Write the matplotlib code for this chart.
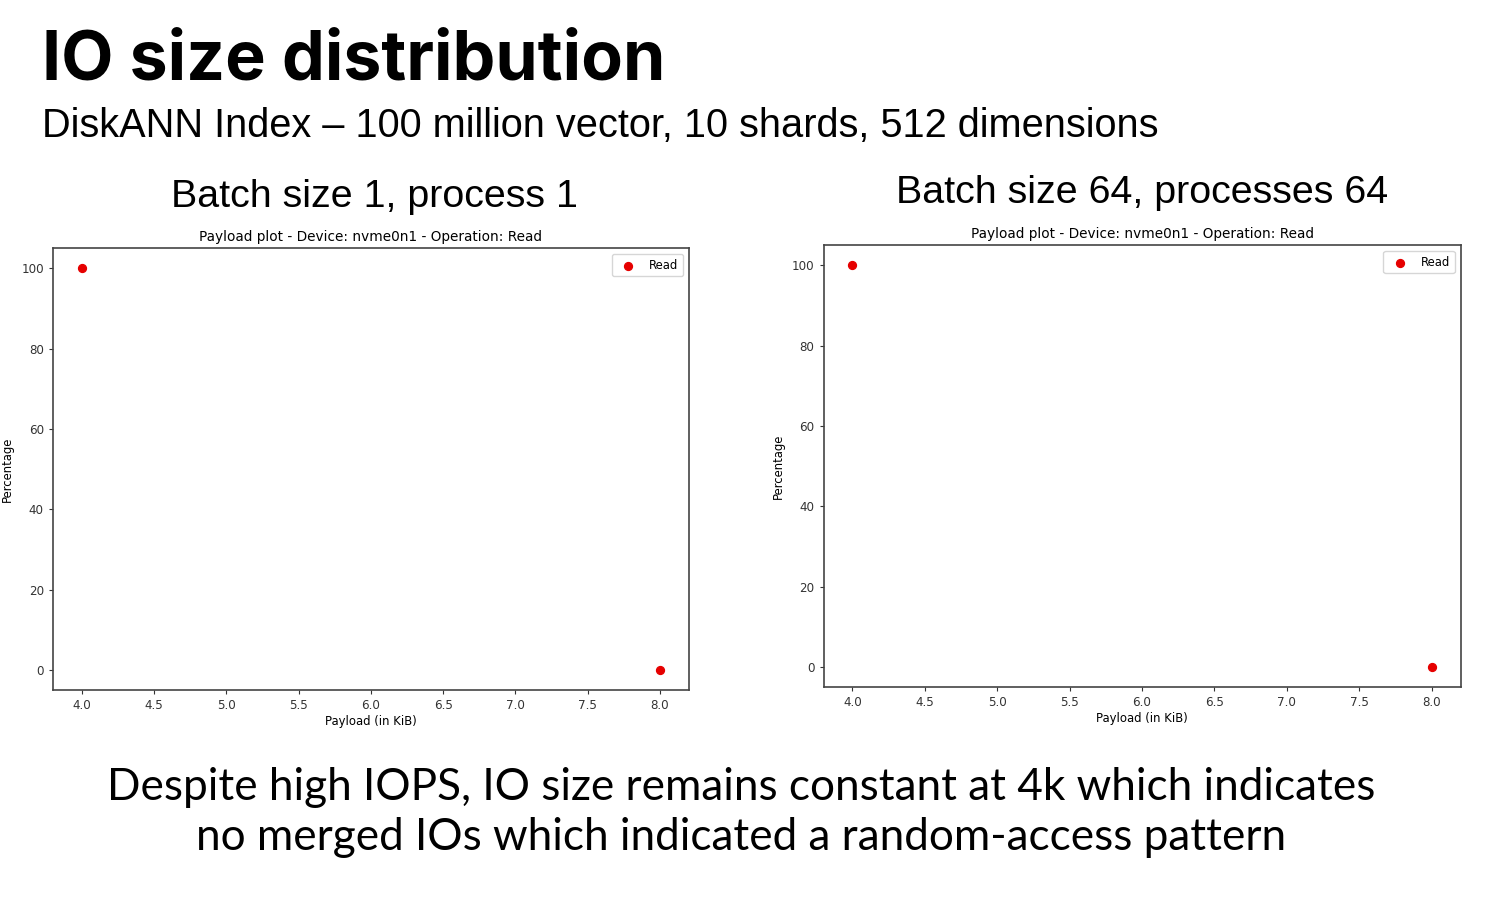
import matplotlib
matplotlib.use("Agg")
from matplotlib import pyplot as plt

# payload sizes (KiB) and share of reads (%) for each run
payload_kib = [4.0, 8.0]
pct_batch1 = [100.0, 0.0]
pct_batch64 = [100.0, 0.0]

panel_titles = ["Batch size 1, process 1", "Batch size 64, processes 64"]
plot_title = "Payload plot - Device: nvme0n1 - Operation: Read"
x_ticks = [4.0, 4.5, 5.0, 5.5, 6.0, 6.5, 7.0, 7.5, 8.0]
y_ticks = [0, 20, 40, 60, 80, 100]

fig = plt.figure(figsize=(15, 9), dpi=100)
fig.patch.set_facecolor("white")

arial = ["Liberation Sans", "DejaVu Sans"]

fig.text(0.028, 0.912, "IO size distribution", fontsize=49, fontweight="bold",
         family=["Inter", "DejaVu Sans"], ha="left", va="baseline")
fig.text(0.028, 0.848, "DiskANN Index \u2013 100 million vector, 10 shards, 512 dimensions",
         fontsize=28.6, family=arial, ha="left", va="baseline")

axes_pos = [[0.0353, 0.2333, 0.424, 0.491], [0.549, 0.2367, 0.4247, 0.491]]
title_x = [0.2497, 0.7617]
title_y = [0.770, 0.774]

for i, vals in enumerate([pct_batch1, pct_batch64]):
    ax = fig.add_axes(axes_pos[i])
    ax.scatter(payload_kib, vals, color="#e60000", s=32, label="Read", zorder=3)
    ax.set_xticks(x_ticks)
    ax.set_yticks(y_ticks)
    ax.tick_params(labelsize=8.6, length=3, colors="#333333")
    ax.set_title(plot_title, fontsize=9.8, pad=5)
    ax.set_xlabel("Payload (in KiB)", fontsize=8.4, labelpad=2)
    ax.set_ylabel("Percentage", fontsize=8.4, labelpad=5)
    ax.legend(loc="upper right", fontsize=8.4)
    for sp in ax.spines.values():
        sp.set_color("#444444")
        sp.set_linewidth(1.2)
    fig.text(title_x[i], title_y[i], panel_titles[i], fontsize=28.4,
             family=arial, ha="center", va="baseline")

fig.text(0.494, 0.111, "Despite high IOPS, IO size remains constant at 4k which indicates",
         fontsize=31.8, family=["Lato", "DejaVu Sans"], ha="center", va="baseline")
fig.text(0.494, 0.055, "no merged IOs which indicated a random-access pattern",
         fontsize=31.8, family=["Lato", "DejaVu Sans"], ha="center", va="baseline")

fig.savefig("out.png", dpi=100)
